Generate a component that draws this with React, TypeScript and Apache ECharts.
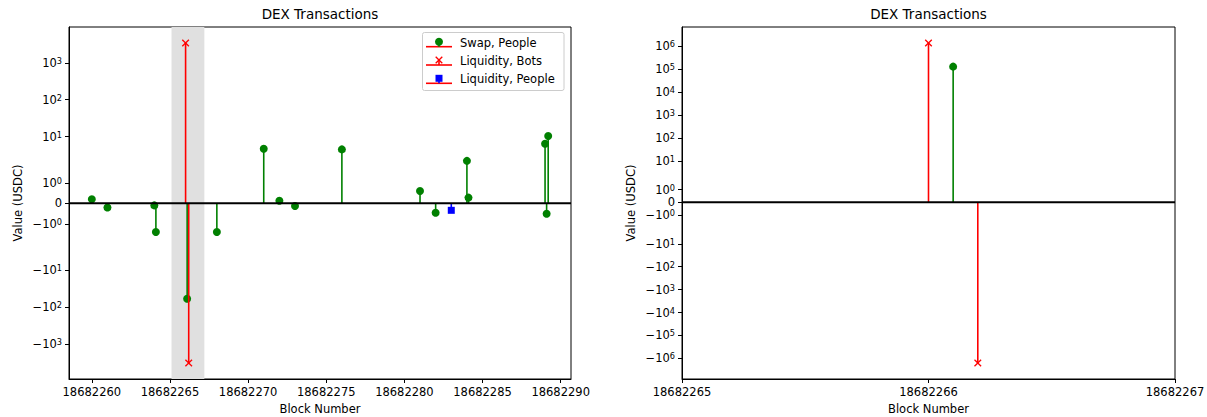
import React, { useEffect, useRef } from "react";
import * as echarts from "echarts";

// ---- symmetric-log scale (base 10, linthresh 2, linscale 1) ----
const LINTHRESH = 2;
const LINSCALE_ADJ = 1 / (1 - 1 / 10);
function symlog(v: number): number {
  const a = Math.abs(v);
  if (a <= LINTHRESH) return v * LINSCALE_ADJ;
  return Math.sign(v) * LINTHRESH * (LINSCALE_ADJ + Math.log10(a / LINTHRESH));
}

// ---- overview panel data ----
const swapBlocks = [
  18682260.0, 18682261.0, 18682264.0, 18682264.1, 18682266.1, 18682268.0,
  18682271.0, 18682272.0, 18682273.0, 18682276.0, 18682281.0, 18682282.0,
  18682284.0, 18682284.1, 18682289.0, 18682289.1, 18682289.2,
];
const swapValues = [
  0.2, -0.2, -0.1, -1.4, -60, -1.4, 4.7, 0.13, -0.13, 4.5, 0.6, -0.46, 2.2,
  0.28, 6.4, -0.51, 10.4,
];
const botBlocks = [18682266.0, 18682266.2];
const botValues = [3450, -3300];
const lpBlocks = [18682283.0];
const lpValues = [-0.34];
const overviewXTicks = [
  18682260, 18682265, 18682270, 18682275, 18682280, 18682285, 18682290,
];
const overviewYExps = [0, 1, 2, 3];
const highlightSpan = [18682265.1, 18682267.2];

// ---- zoomed panel data ----
const zoomSwapBlocks = [18682266.1];
const zoomSwapValues = [130000];
const zoomBotBlocks = [18682266.0, 18682266.2];
const zoomBotValues = [1400000, -1600000];
const zoomXTicks = [18682265, 18682266, 18682267];
const zoomYExps = [0, 1, 2, 3, 4, 5, 6];

const FONT = "DejaVu Sans";
const GREEN = "#008000";
const RED = "#ff0000";
const BLUE = "#0000ff";

type Tick = { value: number; label: string };

// tick labels use rich text: {b|base}{s|exponent}
function symlogTicks(exps: number[]): Tick[] {
  const ticks: Tick[] = [{ value: 0, label: "{b|0}" }];
  exps.forEach((e) => {
    ticks.push({ value: symlog(Math.pow(10, e)), label: `{b|10}{s|${e}}` });
    ticks.push({ value: symlog(-Math.pow(10, e)), label: `{b|\u221210}{s|${e}}` });
  });
  return ticks;
}

function paddedRange(vals: number[], frac = 0.05): [number, number] {
  const lo = Math.min(...vals);
  const hi = Math.max(...vals);
  const pad = (hi - lo) * frac;
  return [lo - pad, hi + pad];
}

type Marker = "circle" | "x" | "square";

function markerShape(kind: Marker, cx: number, cy: number, color: string): any {
  if (kind === "circle") {
    return { type: "circle", shape: { cx, cy, r: 4 }, style: { fill: color } };
  }
  if (kind === "square") {
    return {
      type: "rect",
      shape: { x: cx - 3.5, y: cy - 3.5, width: 7, height: 7 },
      style: { fill: color },
    };
  }
  const s = 3.3;
  return {
    type: "group",
    children: [
      {
        type: "line",
        shape: { x1: cx - s, y1: cy - s, x2: cx + s, y2: cy + s },
        style: { stroke: color, lineWidth: 1.3 },
      },
      {
        type: "line",
        shape: { x1: cx - s, y1: cy + s, x2: cx + s, y2: cy - s },
        style: { stroke: color, lineWidth: 1.3 },
      },
    ],
  };
}

function stemSeries(
  name: string,
  blocks: number[],
  values: number[],
  color: string,
  marker: Marker,
  axis: number
): any {
  return {
    type: "custom",
    name,
    xAxisIndex: axis,
    yAxisIndex: axis,
    z: 3,
    silent: true,
    data: blocks.map((b, i) => [b, symlog(values[i])]),
    renderItem: (_params: any, api: any) => {
      const x = api.value(0);
      const y = api.value(1);
      const p = api.coord([x, y]);
      const b = api.coord([x, 0]);
      return {
        type: "group",
        children: [
          {
            type: "line",
            shape: { x1: p[0], y1: b[1], x2: p[0], y2: p[1] },
            style: { stroke: color, lineWidth: 1.6 },
          },
          markerShape(marker, p[0], p[1], color),
        ],
      };
    },
  };
}

function baselineSeries(axis: number, range: [number, number]): any {
  return {
    type: "line",
    xAxisIndex: axis,
    yAxisIndex: axis,
    z: 4,
    silent: true,
    symbol: "none",
    data: [
      [range[0], 0],
      [range[1], 0],
    ],
    lineStyle: { color: "#000", width: 2 },
  };
}

function xAxisOf(axis: number, range: [number, number], ticks: number[]): any {
  return {
    gridIndex: axis,
    type: "value",
    min: range[0],
    max: range[1],
    splitLine: { show: false },
    axisLine: { show: true, onZero: false, lineStyle: { color: "#000", width: 1 } },
    axisTick: { show: true, length: 4, lineStyle: { color: "#000" }, customValues: ticks },
    axisLabel: {
      customValues: ticks,
      formatter: (v: number) => String(Math.round(v)),
      color: "#000",
      fontFamily: FONT,
      fontSize: 11.5,
      margin: 7,
    },
    name: "Block Number",
    nameLocation: "middle",
    nameGap: 24,
    nameTextStyle: { color: "#000", fontFamily: FONT, fontSize: 11.5 },
  };
}

function yAxisOf(axis: number, range: [number, number], ticks: Tick[]): any {
  const vals = ticks.map((t) => t.value);
  return {
    gridIndex: axis,
    type: "value",
    min: range[0],
    max: range[1],
    splitLine: { show: false },
    axisLine: { show: true, onZero: false, lineStyle: { color: "#000", width: 1 } },
    axisTick: { show: true, length: 4, lineStyle: { color: "#000" }, customValues: vals },
    axisLabel: {
      customValues: vals,
      formatter: (v: number) => {
        const t = ticks.find((k) => Math.abs(k.value - v) < 1e-6);
        return t ? t.label : "";
      },
      color: "#000",
      fontFamily: FONT,
      fontSize: 11.5,
      margin: 7,
      rich: {
        b: { fontFamily: FONT, fontSize: 11.5, color: "#000", lineHeight: 12, verticalAlign: "bottom" },
        s: { fontFamily: FONT, fontSize: 8.2, color: "#000", lineHeight: 7, verticalAlign: "top" },
      },
    },
    name: "Value (USDC)",
    nameLocation: "middle",
    nameGap: 45,
    nameTextStyle: { color: "#000", fontFamily: FONT, fontSize: 11.5 },
  };
}

function legendGraphic(): any {
  const entries: { label: string; color: string; marker: Marker }[] = [
    { label: "Swap, People", color: GREEN, marker: "circle" },
    { label: "Liquidity, Bots", color: RED, marker: "x" },
    { label: "Liquidity, People", color: BLUE, marker: "square" },
  ];
  const children: any[] = [
    {
      type: "rect",
      shape: { x: 422.5, y: 32.5, width: 141.5, height: 58, r: 2 },
      style: { fill: "rgba(255,255,255,0.8)", stroke: "#cccccc", lineWidth: 1 },
    },
  ];
  entries.forEach((e, i) => {
    const yText = 42.7 + i * 18.3;
    const yLine = yText + 4;
    const yMark = yText - 1;
    children.push({
      type: "line",
      shape: { x1: 426, y1: yLine, x2: 452, y2: yLine },
      style: { stroke: RED, lineWidth: 1.6 },
    });
    children.push({
      type: "line",
      shape: { x1: 439, y1: yLine, x2: 439, y2: yMark },
      style: { stroke: e.color, lineWidth: 1.6 },
    });
    children.push(markerShape(e.marker, 439, yMark, e.color));
    children.push({
      type: "text",
      x: 460,
      y: yText,
      style: {
        text: e.label,
        fill: "#000",
        font: `11.5px "${FONT}"`,
        textAlign: "left",
        textVerticalAlign: "middle",
      },
    });
  });
  return { type: "group", z: 10, children };
}

export default function App() {
  const ref = useRef<HTMLDivElement>(null);

  useEffect(() => {
    if (!ref.current) return;
    const chart = echarts.init(ref.current, undefined, { renderer: "svg" });

    const overviewX = paddedRange([...swapBlocks, ...botBlocks, ...lpBlocks]);
    const overviewY = paddedRange([
      0,
      ...swapValues.map(symlog),
      ...botValues.map(symlog),
      ...lpValues.map(symlog),
    ]);
    const zoomX: [number, number] = [zoomXTicks[0], zoomXTicks[zoomXTicks.length - 1]];
    const zoomY = paddedRange([
      0,
      ...zoomSwapValues.map(symlog),
      ...zoomBotValues.map(symlog),
    ]);

    const titleStyle = {
      color: "#000",
      fontFamily: FONT,
      fontSize: 13.5,
      fontWeight: "normal" as const,
    };

    const gridBase = {
      top: 27,
      height: 352,
      show: true,
      borderColor: "#000",
      borderWidth: 1,
      backgroundColor: "transparent",
      containLabel: false,
      outerBoundsMode: "none",
    };

    chart.setOption({
      animation: false,
      backgroundColor: "#fff",
      title: [
        { text: "DEX Transactions", left: 320, top: 7, textAlign: "center", textStyle: titleStyle, padding: 0 },
        { text: "DEX Transactions", left: 928.5, top: 7, textAlign: "center", textStyle: titleStyle, padding: 0 },
      ],
      grid: [
        { ...gridBase, left: 69, width: 502 },
        { ...gridBase, left: 682, width: 493 },
      ],
      xAxis: [xAxisOf(0, overviewX, overviewXTicks), xAxisOf(1, zoomX, zoomXTicks)],
      yAxis: [
        yAxisOf(0, overviewY, symlogTicks(overviewYExps)),
        yAxisOf(1, zoomY, symlogTicks(zoomYExps)),
      ],
      series: [
        {
          type: "custom",
          name: "highlight",
          xAxisIndex: 0,
          yAxisIndex: 0,
          z: 1,
          silent: true,
          data: [[highlightSpan[0], highlightSpan[1]]],
          renderItem: (params: any, api: any) => {
            const a = api.coord([api.value(0), 0]);
            const b = api.coord([api.value(1), 0]);
            const cs = params.coordSys;
            return {
              type: "rect",
              shape: { x: a[0], y: cs.y, width: b[0] - a[0], height: cs.height },
              style: { fill: "#e0e0e0" },
            };
          },
        },
        stemSeries("Swap, People", swapBlocks, swapValues, GREEN, "circle", 0),
        stemSeries("Liquidity, Bots", botBlocks, botValues, RED, "x", 0),
        stemSeries("Liquidity, People", lpBlocks, lpValues, BLUE, "square", 0),
        baselineSeries(0, overviewX),
        stemSeries("Swap, People", zoomSwapBlocks, zoomSwapValues, GREEN, "circle", 1),
        stemSeries("Liquidity, Bots", zoomBotBlocks, zoomBotValues, RED, "x", 1),
        baselineSeries(1, zoomX),
      ],
      graphic: [legendGraphic()],
    });

    return () => chart.dispose();
  }, []);

  return (
    <div
      ref={ref}
      style={{ position: "absolute", left: 0, top: 0, width: 1207, height: 417 }}
    />
  );
}
